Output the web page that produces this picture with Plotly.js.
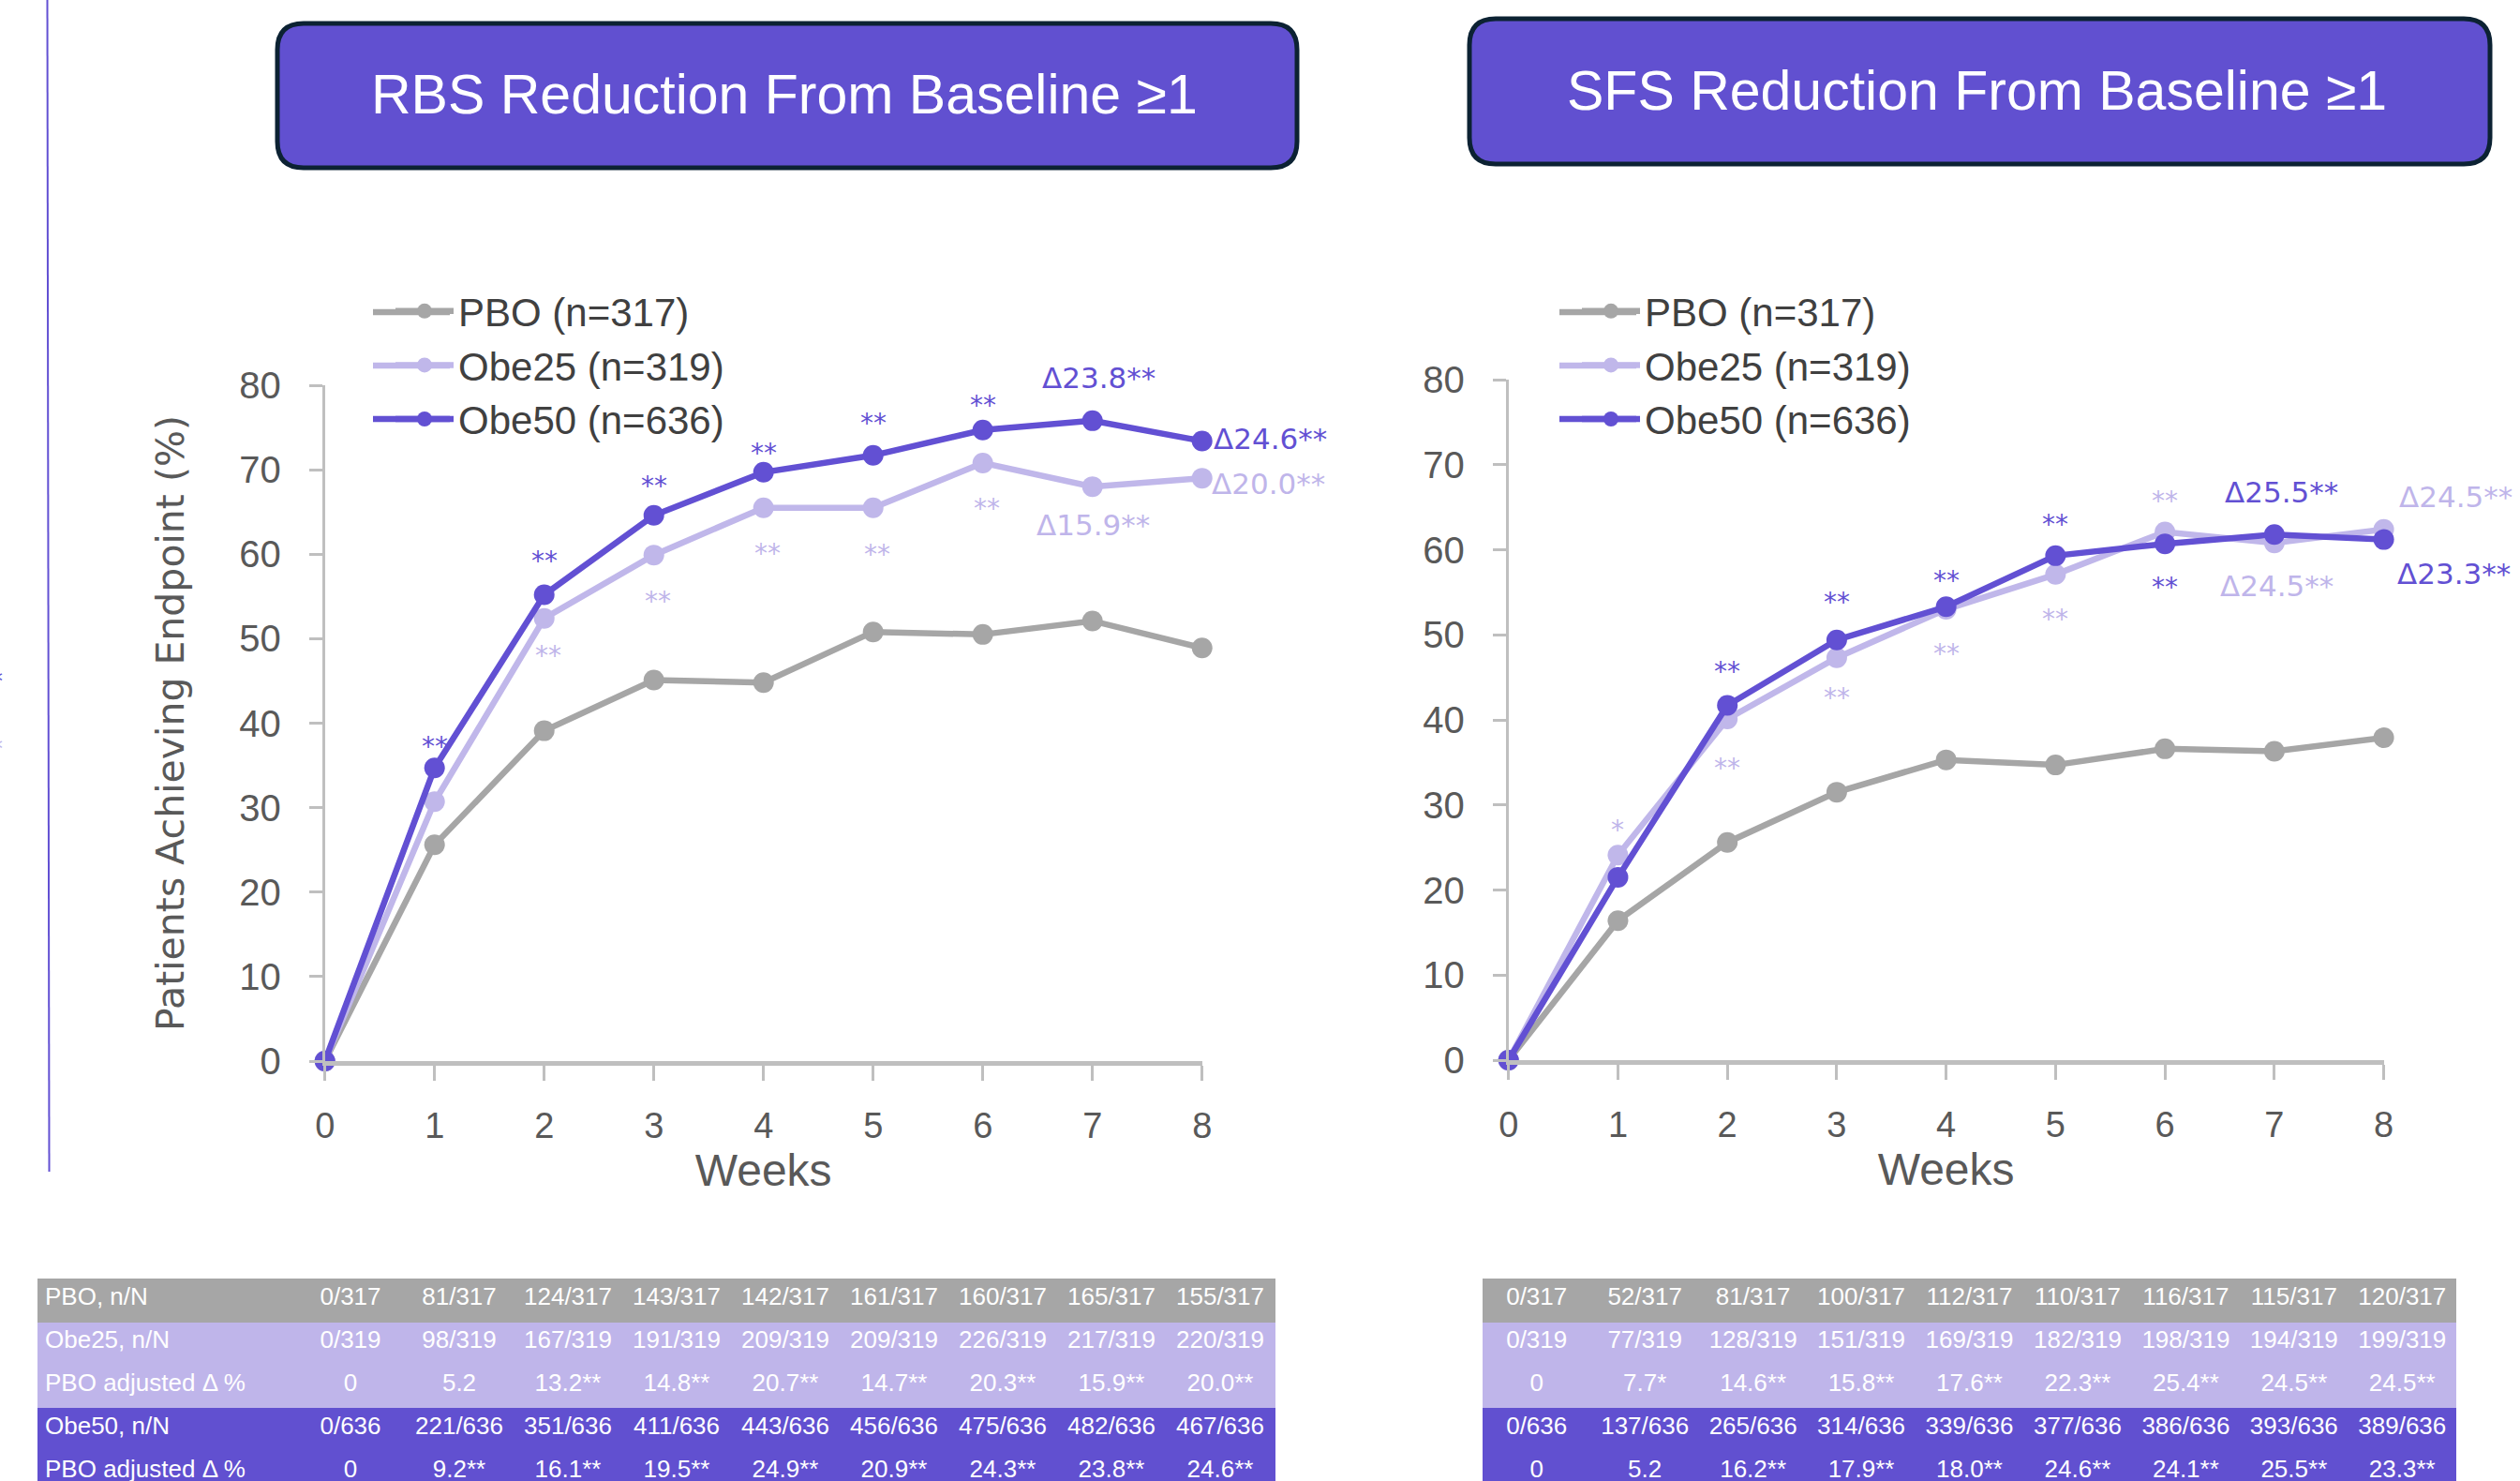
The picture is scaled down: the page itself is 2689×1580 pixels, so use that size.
<!DOCTYPE html>
<html>
<head>
<meta charset="utf-8">
<script src="https://cdn.plot.ly/plotly-3.0.1.min.js"></script>
<style>
  html, body { margin: 0; padding: 0; background: #ffffff; overflow: hidden; }
  #wrap { width: 2689px; height: 1580px; overflow: hidden; position: relative; }
  #chart { width: 2689px; height: 1600px; }
</style>
</head>
<body>
<div id="wrap"><div id="chart"></div></div>
<script>
// ---------------- DATA ----------------
const weeks = [0, 1, 2, 3, 4, 5, 6, 7, 8];
const seriesNames = ['PBO (n=317)', 'Obe25 (n=319)', 'Obe50 (n=636)'];

// RBS reduction from baseline >=1 (% of patients)
const rbsPBO   = [0, 25.6, 39.1, 45.1, 44.8, 50.8, 50.5, 52.1, 48.9];
const rbsObe25 = [0, 30.7, 52.4, 59.9, 65.5, 65.5, 70.8, 68.0, 69.0];
const rbsObe50 = [0, 34.7, 55.2, 64.6, 69.7, 71.7, 74.7, 75.8, 73.4];

// SFS reduction from baseline >=1 (% of patients)
const sfsPBO   = [0, 16.4, 25.6, 31.5, 35.3, 34.7, 36.6, 36.3, 37.9];
const sfsObe25 = [0, 24.1, 40.1, 47.3, 53.0, 57.1, 62.1, 60.8, 62.4];
const sfsObe50 = [0, 21.5, 41.7, 49.4, 53.3, 59.3, 60.7, 61.8, 61.2];

// Table rows
const rowLabels = ['PBO, n/N', 'Obe25, n/N', 'PBO adjusted Δ %', 'Obe50, n/N', 'PBO adjusted Δ %'];
const rbsRowPBO   = ['0/317','81/317','124/317','143/317','142/317','161/317','160/317','165/317','155/317'];
const rbsRowObe25 = ['0/319','98/319','167/319','191/319','209/319','209/319','226/319','217/319','220/319'];
const rbsRowAdj25 = ['0','5.2','13.2**','14.8**','20.7**','14.7**','20.3**','15.9**','20.0**'];
const rbsRowObe50 = ['0/636','221/636','351/636','411/636','443/636','456/636','475/636','482/636','467/636'];
const rbsRowAdj50 = ['0','9.2**','16.1**','19.5**','24.9**','20.9**','24.3**','23.8**','24.6**'];

const sfsRowPBO   = ['0/317','52/317','81/317','100/317','112/317','110/317','116/317','115/317','120/317'];
const sfsRowObe25 = ['0/319','77/319','128/319','151/319','169/319','182/319','198/319','194/319','199/319'];
const sfsRowAdj25 = ['0','7.7*','14.6**','15.8**','17.6**','22.3**','25.4**','24.5**','24.5**'];
const sfsRowObe50 = ['0/636','137/636','265/636','314/636','339/636','377/636','386/636','393/636','389/636'];
const sfsRowAdj50 = ['0','5.2','16.2**','17.9**','18.0**','24.6**','24.1**','25.5**','23.3**'];

// Significance / delta labels
const rbsDeltaLabels = ['Δ23.8**', 'Δ24.6**', 'Δ20.0**', 'Δ15.9**'];
const sfsDeltaLabels = ['Δ25.5**', 'Δ24.5**', 'Δ24.5**', 'Δ23.3**'];

// ---------------- STYLE ----------------
const W = 2689, H = 1600;
const px = v => v / W;
const py = v => 1 - v / H;
const cGray = '#a6a6a6', cLight = '#c0b7ea', cDark = '#6250d3';
const cLightText = '#bfb5ea';
const sans = 'Liberation Sans, Arial, sans-serif';
const dj = 'DejaVu Sans, Verdana, sans-serif';
const colors = [cGray, cLight, cDark];

function mk(xs, ys, name, color, xa, ya, lg) {
  return {
    type: 'scatter', mode: 'lines+markers', x: xs, y: ys, name: name,
    xaxis: xa, yaxis: ya, legend: lg, cliponaxis: false,
    line: { color: color, width: 6.5 },
    marker: { color: color, size: 22 }
  };
}

const traces = [
  mk(weeks, rbsPBO, seriesNames[0], colors[0], 'x', 'y', 'legend'),
  mk(weeks, rbsObe25, seriesNames[1], colors[1], 'x', 'y', 'legend'),
  mk(weeks, rbsObe50, seriesNames[2], colors[2], 'x', 'y', 'legend'),
  mk(weeks, sfsPBO, seriesNames[0], colors[0], 'x2', 'y2', 'legend2'),
  mk(weeks, sfsObe25, seriesNames[1], colors[1], 'x2', 'y2', 'legend2'),
  mk(weeks, sfsObe50, seriesNames[2], colors[2], 'x2', 'y2', 'legend2')
];

// tables
const cellFill = ['#bfb5ea', '#bfb5ea', '#6150d0', '#6150d0'];
const tblFont = { family: sans, size: 26, color: '#ffffff' };
function columns(rows) {
  return rows[0].map((_, i) => rows.map(r => r[i]));
}
const rbsCols = [rowLabels.slice(1)].concat(columns([rbsRowObe25, rbsRowAdj25, rbsRowObe50, rbsRowAdj50]));
const sfsCols = columns([sfsRowObe25, sfsRowAdj25, sfsRowObe50, sfsRowAdj50]);

traces.push({
  type: 'table',
  domain: { x: [px(40), px(1360)], y: [0, py(1364)] },
  columnwidth: [276].concat(weeks.map(() => 116)),
  header: {
    values: [rowLabels[0]].concat(rbsRowPBO),
    align: ['left', 'center'],
    fill: { color: cGray }, line: { color: cGray, width: 1 },
    font: tblFont, height: 46
  },
  cells: {
    values: rbsCols,
    align: ['left', 'center'],
    fill: { color: [cellFill] }, line: { color: [cellFill], width: 1 },
    font: tblFont, height: 46
  }
});
traces.push({
  type: 'table',
  domain: { x: [px(1582), px(2622)], y: [0, py(1364)] },
  header: {
    values: sfsRowPBO, align: 'center',
    fill: { color: cGray }, line: { color: cGray, width: 1 },
    font: tblFont, height: 46
  },
  cells: {
    values: sfsCols, align: 'center',
    fill: { color: [cellFill] }, line: { color: [cellFill], width: 1 },
    font: tblFont, height: 46
  }
});

// axes
function xAx(domain, anchor) {
  return {
    domain: domain, anchor: anchor, range: [0, 8], tickvals: weeks,
    showgrid: false, zeroline: false, showline: true, linecolor: '#bfbfbf', linewidth: 5,
    ticks: 'outside', ticklen: 16, tickwidth: 3, tickcolor: '#bfbfbf', ticklabelstandoff: 15,
    tickfont: { family: sans, size: 38, color: '#595959' },
    title: { text: 'Weeks', font: { family: sans, size: 48, color: '#595959' }, standoff: 0 }
  };
}
function yAx(domain, anchor, title) {
  const a = {
    domain: domain, anchor: anchor, range: [0, 80], dtick: 10,
    showgrid: false, zeroline: false, showline: true, linecolor: '#bfbfbf', linewidth: 3,
    ticks: 'outside', ticklen: 14, tickwidth: 3, tickcolor: '#bfbfbf', ticklabelstandoff: 22,
    tickfont: { family: sans, size: 40, color: '#595959' }
  };
  if (title) a.title = { text: title, font: { family: dj, size: 41, color: '#595959' }, standoff: 46 };
  return a;
}

// annotations
const ann = [];
function txt(xref, yref, x, y, text, color, size, o) {
  ann.push(Object.assign({
    xref: xref, yref: yref, x: x, y: y, text: text, showarrow: false,
    font: { family: dj, size: size, color: color }, xanchor: 'center', yanchor: 'middle'
  }, o || {}));
}
// RBS asterisks
[[1,37.9],[2,59.9],[3,68.7],[4,72.6],[5,76.2],[6,78.3]].forEach(p => txt('x','y',p[0],p[1],'**',cDark,28,{yshift:-6}));
[[2,48.7],[3,55.1],[4,60.8],[5,60.6],[6,66.1]].forEach(p => txt('x','y',p[0],p[1],'**',cLightText,28,{yshift:-6,xshift:4}));
txt('x','y',7,80,rbsDeltaLabels[0],cDark,31,{xshift:7,yshift:8});
txt('x','y',8,73.7,rbsDeltaLabels[1],cDark,31,{xanchor:'left',xshift:10});
txt('x','y',8,68.3,rbsDeltaLabels[2],cLightText,31,{xanchor:'left',xshift:8});
txt('x','y',7,63.5,rbsDeltaLabels[3],cLightText,31,{xshift:1});
// SFS asterisks
[[2,46.3],[3,54.5],[4,57.0],[5,63.6],[6,56.3]].forEach(p => txt('x2','y2',p[0],p[1],'**',cDark,28,{yshift:-6}));
txt('x2','y2',1,27.7,'*',cLightText,28,{yshift:-6});
[[2,35.0],[3,43.2],[4,48.4],[5,52.5],[6,66.4]].forEach(p => txt('x2','y2',p[0],p[1],'**',cLightText,28,{yshift:-6}));
txt('x2','y2',7,66.8,sfsDeltaLabels[0],cDark,31,{xshift:8});
txt('x2','y2',7,55.8,sfsDeltaLabels[1],cLightText,31,{xshift:3});
txt('x2','y2',8,66.2,sfsDeltaLabels[2],cLightText,31,{xanchor:'left',xshift:14});
txt('x2','y2',8,57.2,sfsDeltaLabels[3],cDark,31,{xanchor:'left',xshift:12});
// header titles
const titleFont = { family: sans, size: 59, color: '#ffffff' };
txt('paper','paper',px(837),py(101),'RBS Reduction From Baseline ≥1','#ffffff',59,{font:titleFont});
txt('paper','paper',px(2109),py(97),'SFS Reduction From Baseline ≥1','#ffffff',59,{font:titleFont});
// fragments at the left edge
txt('paper','paper',px(-10),py(727),'**',cDark,26);
txt('paper','paper',px(-10),py(799),'**',cLightText,26);

// rounded title boxes
function rrect(x0, y0, x1, y1, r) {
  const P = (x, y) => px(x) + ',' + py(y);
  return 'M' + P(x0 + r, y0) + ' L' + P(x1 - r, y0) + ' Q' + P(x1, y0) + ' ' + P(x1, y0 + r) +
    ' L' + P(x1, y1 - r) + ' Q' + P(x1, y1) + ' ' + P(x1 - r, y1) +
    ' L' + P(x0 + r, y1) + ' Q' + P(x0, y1) + ' ' + P(x0, y1 - r) +
    ' L' + P(x0, y0 + r) + ' Q' + P(x0, y0) + ' ' + P(x0 + r, y0) + ' Z';
}
const shapes = [
  { type: 'path', xref: 'paper', yref: 'paper', path: rrect(296, 25, 1384, 179, 28),
    fillcolor: '#6150d0', line: { color: '#0c2233', width: 5 } },
  { type: 'path', xref: 'paper', yref: 'paper', path: rrect(1568, 20, 2657, 175, 28),
    fillcolor: '#6150d0', line: { color: '#0c2233', width: 5 } },
  { type: 'line', xref: 'paper', yref: 'paper', x0: px(50.5), x1: px(52.5), y0: 1, y1: py(1250),
    line: { color: cDark, width: 2 } }
];
// longer legend symbol lines (legend key decoration)
const legendRows = [333, 390, 447];
[[398, 480], [1664, 1746]].forEach(seg => {
  legendRows.forEach((ry, i) => {
    shapes.push({ type: 'line', xref: 'paper', yref: 'paper', layer: 'below',
      x0: px(seg[0]), x1: px(seg[1]), y0: py(ry), y1: py(ry),
      line: { color: colors[i], width: 6.5 } });
  });
});

const legendBase = {
  xanchor: 'left', yanchor: 'top', bgcolor: 'rgba(0,0,0,0)', borderwidth: 0,
  font: { family: sans, size: 42, color: '#404040' }, tracegroupgap: 0, itemwidth: 62
};

const layout = {
  width: W, height: H,
  margin: { l: 0, r: 0, t: 0, b: 0, pad: 0 },
  paper_bgcolor: '#ffffff', plot_bgcolor: '#ffffff',
  showlegend: true, hovermode: false,
  xaxis: xAx([px(346.7), px(1282.7)], 'y'),
  yaxis: yAx([py(1132), py(411)], 'x', 'Patients Achieving Endpoint (%)'),
  xaxis2: xAx([px(1609.7), px(2543.6)], 'y2'),
  yaxis2: yAx([py(1131), py(405)], 'x2', null),
  legend: Object.assign({ x: px(417), y: py(298) }, legendBase),
  legend2: Object.assign({ x: px(1683), y: py(298) }, legendBase),
  annotations: ann,
  shapes: shapes
};

Plotly.newPlot('chart', traces, layout, { staticPlot: true, displayModeBar: false });
</script>
</body>
</html>
